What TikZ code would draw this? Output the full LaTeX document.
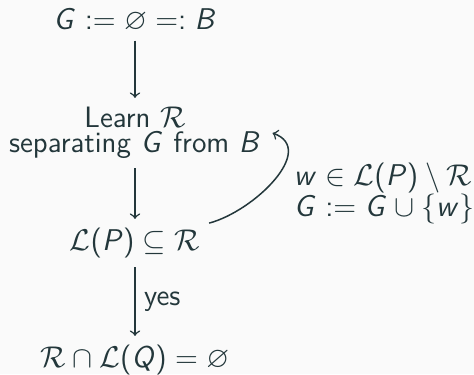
\documentclass[tikz,border=0pt]{standalone}
\usepackage{amssymb}
\usepackage{tikz}

% sans serif math letters, as on the slides
\DeclareSymbolFont{sfletters}{OT1}{cmss}{m}{sl}
\SetSymbolFont{operators}{normal}{OT1}{cmss}{m}{n}
\DeclareMathSymbol{B}{\mathalpha}{sfletters}{`B}
\DeclareMathSymbol{G}{\mathalpha}{sfletters}{`G}
\DeclareMathSymbol{P}{\mathalpha}{sfletters}{`P}
\DeclareMathSymbol{Q}{\mathalpha}{sfletters}{`Q}
\DeclareMathSymbol{w}{\mathalpha}{sfletters}{`w}

\definecolor{mDarkTeal}{HTML}{23373B}
\definecolor{mBackground}{HTML}{FAFAFA}

\begin{document}
\begin{tikzpicture}[
    >=to,
    semithick,
    color=mDarkTeal,
    font=\fontsize{11.8}{12.4}\selectfont\sffamily
]

% Background
\path[use as bounding box, fill=mBackground] (0,0) rectangle (6.664,5.258);

% Steps of the loop
\node (init)   at (1.898,4.977) {$G := \varnothing =: B$};
\node[align=center] (learn) at (1.898,3.388)
    {Learn $\mathcal R$\\[-2.2pt]separating $G$ from $B$};
\node (check)  at (1.898,1.842) {$\mathcal L(P) \subseteq \mathcal R$};
\node (result) at (1.898,0.197) {$\mathcal R \cap \mathcal L(Q) = \varnothing$};
\node[align=left] (update) at (5.40,2.531)
    {$w \in \mathcal L(P) \setminus \mathcal R$\\$G := G \cup \{w\}$};

% Arrows
\draw[->] (init) -- (learn);
\draw[->] (learn) -- (check);
\draw[->] (check) -- node[right] {yes} (result);
\draw[->] (check) to[out=15, in=-20, looseness=1.1] ([xshift=1pt]learn.east);

\end{tikzpicture}
\end{document}
